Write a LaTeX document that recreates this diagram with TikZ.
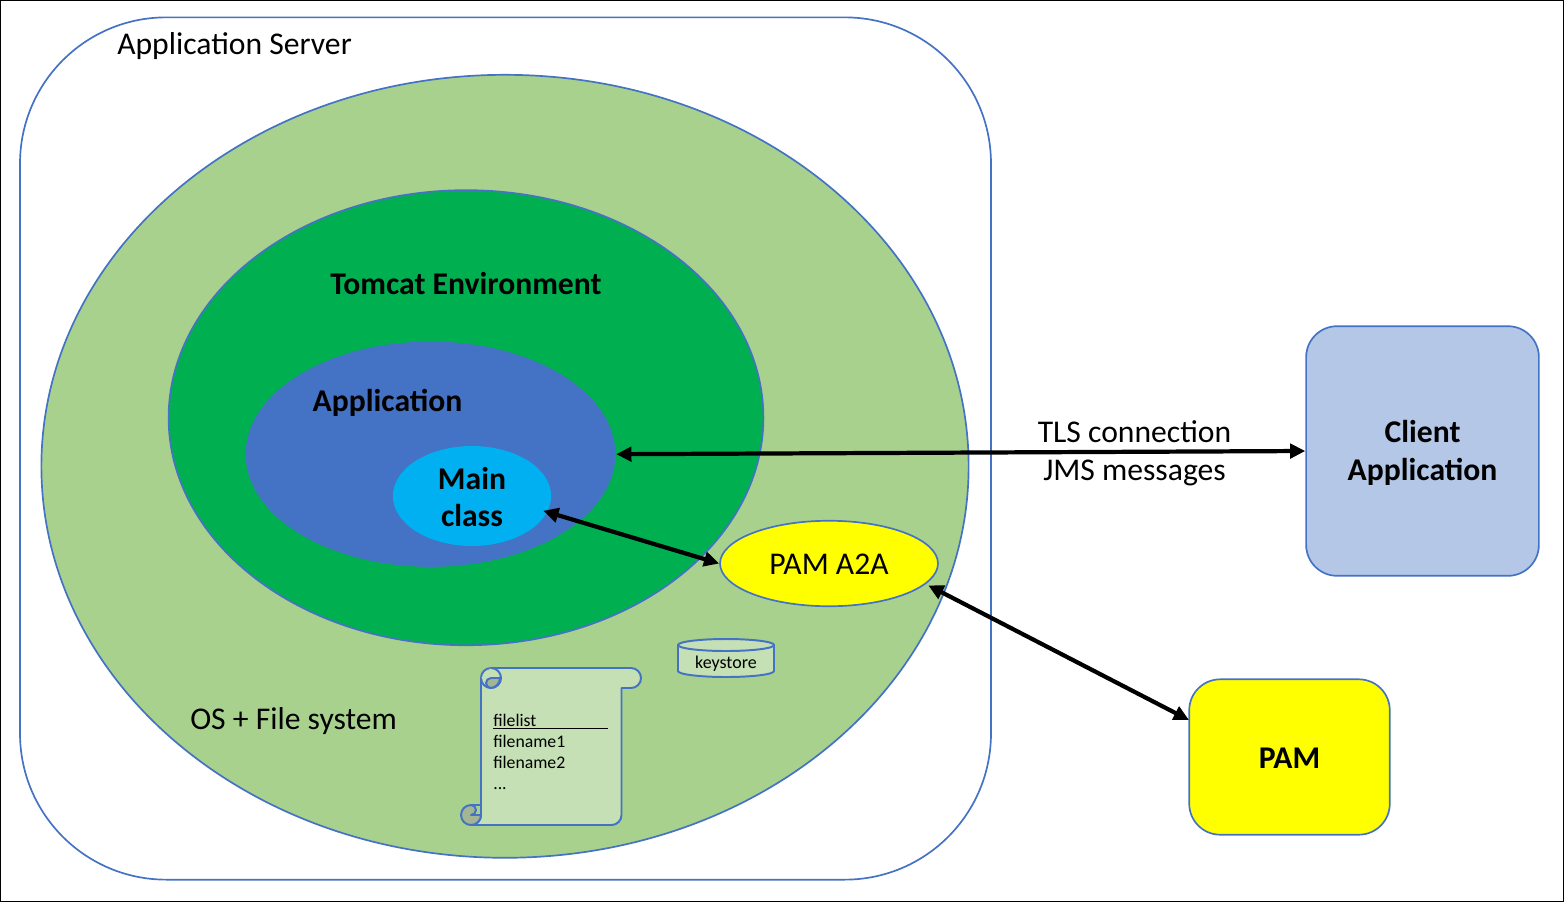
\documentclass[tikz,border=0pt]{standalone}
\usepackage{fontspec}
\setmainfont{Carlito}
\usepackage{tikz}
\usetikzlibrary{shapes.geometric,arrows.meta,positioning,calc}
\definecolor{outline}{HTML}{4472C4}
\definecolor{osgreen}{HTML}{A9D18E}
\definecolor{tomgreen}{HTML}{00B050}
\definecolor{mainblue}{HTML}{00B0F0}
\definecolor{clientblue}{HTML}{B4C7E7}
\definecolor{palegreen}{HTML}{C5E0B4}
\definecolor{foldgreen}{HTML}{A3B592}
\definecolor{pamyellow}{HTML}{FFFF00}

\begin{document}
\begin{tikzpicture}[x=0.025cm, y=-0.025cm,
  blob/.style={ellipse, draw=outline, line width=1.2pt, fill=#1, inner sep=0pt},
  card/.style={rectangle, draw=outline, line width=1.2pt, fill=#1, rounded corners=22pt, align=center, font=\fontsize{22.5}{27}\selectfont\bfseries},
  label/.style={font=\fontsize{22.5}{27}\selectfont, inner sep=0pt, align=center},
  blabel/.style={font=\fontsize{22.5}{27}\selectfont\bfseries, inner sep=0pt, align=center},
  arr/.style={{Triangle[length=3.8mm,width=3.6mm]}-{Triangle[length=3.8mm,width=3.6mm]}, line width=3pt, black},
  paper/.style={draw=outline, line width=1.4pt, fill=palegreen, line join=round}
]
  \useasboundingbox (0,0) rectangle (1564,902);
  \draw[black, line width=0.7pt] (0.5,0.5) rectangle (1563.5,901.5);

  \node[card=white, rounded corners=104pt, minimum width=690.5pt, minimum height=613.2pt] (server) at (505.5,448.5) {};
  \node[blob=osgreen, minimum width=659.4pt, minimum height=556.8pt] (os) at (505,466.3) {};
  \node[blob=tomgreen, minimum width=423pt, minimum height=323.6pt] (tomcat) at (466,417.7) {};
  \node[blob=outline, draw=none, minimum width=263pt, minimum height=160.2pt] (app) at (430.5,454.2) {};
  \node[ellipse, fill=mainblue, inner sep=0pt, minimum width=112.6pt, minimum height=71.1pt] (main) at (472,496) {};
  \node[blabel] (mainlbl) at (472,497) {Main\\class};
  \node[blob=pamyellow, minimum width=155pt, minimum height=60.8pt] (a2a) at (829,563.5) {};
  \node[label] (a2albl) at (829,564.5) {PAM A2A};

  \node[card=clientblue, minimum width=165.5pt, minimum height=177.5pt] (client) at (1422.5,451) {};
  \node[blabel] (clientlbl) at (1422.5,453) {Client\\Application};
  \node[card=pamyellow, minimum width=142.6pt, minimum height=110.5pt] (pam) at (1289.5,757) {};
  \node[blabel] (pamlbl) at (1289.5,758) {PAM};

  \node[label, anchor=base west] (serverlbl) at (117,54) {Application Server};
  \node[blabel] (tomcatlbl) at (466,283.5) {Tomcat Environment};
  \node[blabel] (applbl) at (387.5,403) {Application};
  \node[label, anchor=base west] (oslbl) at (190,729) {OS + File system};

  % scroll
  \draw[paper] (481,678) arc[start angle=180, end angle=270, radius=10] -- (631,668) arc[start angle=270, end angle=450, radius=10] -- (621.5,688) -- (621.5,815) arc[start angle=0, end angle=90, radius=10] -- (471,825) arc[start angle=90, end angle=0, radius=10] -- cycle;
  \draw[paper] (491,668) arc[start angle=270, end angle=450, radius=10] -- (491,688) arc[start angle=90, end angle=180, radius=10];
  \draw[paper, fill=foldgreen] (491,688) arc[start angle=90, end angle=270, radius=5] -- (496,678) -- (500,678) arc[start angle=0, end angle=90, radius=10] -- cycle;
  \draw[paper, fill=foldgreen] (471,805) arc[start angle=270, end angle=90, radius=10] arc[start angle=90, end angle=0, radius=10] -- (471,815) arc[start angle=90, end angle=-90, radius=5];
  \draw[paper, fill=none] (471,805) -- (481,805) -- (481,815);
  \node[anchor=north west, inner sep=0pt, align=left, font=\fontsize{12.6}{14.9}\selectfont] (filelist) at (493,714) {\underline{filelist\hspace{51pt}}\\filename1\\filename2\\...};

  % keystore
  \draw[paper] (678,645) -- (678,671) arc[start angle=180, end angle=0, x radius=48, y radius=6] -- (774,645) arc[start angle=0, end angle=-180, x radius=48, y radius=6] -- cycle;
  \draw[paper] (678,645) arc[start angle=180, end angle=0, x radius=48, y radius=6];
  \node[inner sep=0pt, font=\fontsize{12.8}{14}\selectfont] (keystore) at (726,664) {keystore};

  \node[label, anchor=base] (tlslbl) at (1134.5,442) {TLS connection};
  \node[label, anchor=base] (jmslbl) at (1134.5,480) {JMS messages};

  \coordinate (pamin) at (1189,720);
  \draw[arr] (app.east) -- (client.west);
  \draw[arr, shorten <=-3pt] (main.-12) -- (a2a.west);
  \draw[arr, shorten <=2pt] (a2a.-12) -- (pamin);
\end{tikzpicture}
\end{document}
